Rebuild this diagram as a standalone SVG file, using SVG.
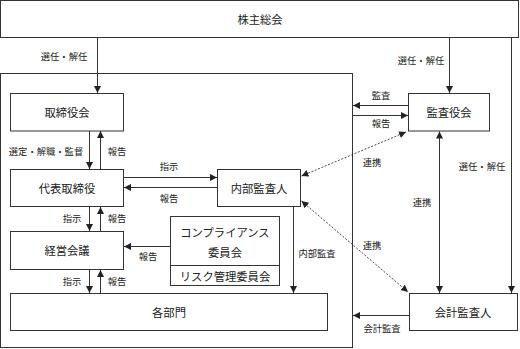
<svg xmlns="http://www.w3.org/2000/svg" width="520" height="349" viewBox="0 0 520 349">
<style>
text{font-family:"Noto Sans CJK JP","Noto Sans CJK SC",sans-serif;fill:#222;text-anchor:middle;dominant-baseline:central}
.t{font-size:11.3px}
.l{font-size:9.3px}
.box{fill:#fff;stroke:#333;stroke-width:1}
.c{fill:none;stroke:#333;stroke-width:1}
.d{fill:none;stroke:#333;stroke-width:0.9;stroke-dasharray:2,1.6}
</style>
<defs>
<marker id="a" markerUnits="userSpaceOnUse" markerWidth="8" markerHeight="8" refX="7" refY="3.5" orient="auto-start-reverse" viewBox="0 0 8 8">
<path d="M0,0 L7,3.5 L0,7 z" fill="#222"/>
</marker>
</defs>
<rect width="520" height="349" fill="#fff"/>
<g id="container"><rect class="box" x="0.5" y="73.5" width="352" height="274"/></g>
<g id="shareholders"><rect class="box" x="0.5" y="0.5" width="518" height="37"/><text class="t" x="260" y="19">株主総会</text></g>
<g id="board"><rect class="box" x="10.5" y="93.5" width="113" height="37.5"/><text class="t" x="67" y="112">取締役会</text></g>
<g id="ceo"><rect class="box" x="10.5" y="169.5" width="113" height="37"/><text class="t" x="67" y="188">代表取締役</text></g>
<g id="mgmt"><rect class="box" x="10.5" y="231.5" width="113" height="38"/><text class="t" x="67" y="250">経営会議</text></g>
<g id="depts"><rect class="box" x="10.5" y="293.5" width="317" height="37"/><text class="t" x="169" y="312">各部門</text></g>
<g id="internal-audit"><rect class="box" x="217.5" y="169.5" width="83" height="37"/><text class="t" x="259" y="188">内部監査人</text></g>
<g id="compliance"><rect class="box" x="170.5" y="216.5" width="109" height="69"/><line class="c" x1="170.5" y1="265.5" x2="279.5" y2="265.5"/><text class="t" x="225" y="232">コンプライアンス</text><text class="t" x="225" y="252">委員会</text><text class="t" x="225" y="276">リスク管理委員会</text></g>
<g id="auditors"><rect class="box" x="408.5" y="93.5" width="81" height="37.5"/><text class="t" x="449" y="112">監査役会</text></g>
<g id="accounting-auditor"><rect class="box" x="409.5" y="293.5" width="108" height="37"/><text class="t" x="463" y="312">会計監査人</text></g>
<g id="connectors">
<path class="c" d="M97.5,38 V93" marker-end="url(#a)"/>
<path class="c" d="M449.5,38 V93" marker-end="url(#a)"/>
<path class="c" d="M511.5,38 V293" marker-end="url(#a)"/>
<path class="c" d="M89.5,131 V169" marker-end="url(#a)"/>
<path class="c" d="M100.5,169 V131" marker-end="url(#a)"/>
<path class="c" d="M124,177.5 H217" marker-end="url(#a)"/>
<path class="c" d="M217,187.5 H124" marker-end="url(#a)"/>
<path class="c" d="M89.5,207 V231" marker-end="url(#a)"/>
<path class="c" d="M100.5,231 V207" marker-end="url(#a)"/>
<path class="c" d="M170,246.5 H124" marker-end="url(#a)"/>
<path class="c" d="M89.5,270 V293" marker-end="url(#a)"/>
<path class="c" d="M100.5,293 V270" marker-end="url(#a)"/>
<path class="c" d="M293.5,207 V293" marker-end="url(#a)"/>
<path class="c" d="M408,105.5 H353" marker-end="url(#a)"/>
<path class="c" d="M353,115.5 H408" marker-end="url(#a)"/>
<path class="c" d="M439.5,131.5 V293" marker-start="url(#a)" marker-end="url(#a)"/>
<path class="c" d="M409,315.5 H353" marker-end="url(#a)"/>
<path class="d" d="M301.5,176 L406,132" marker-start="url(#a)" marker-end="url(#a)"/>
<path class="d" d="M301.5,201 L408,292" marker-start="url(#a)" marker-end="url(#a)"/>
</g>
<g id="labels">
<text class="l" x="64" y="56">選任・解任</text>
<text class="l" x="421" y="60">選任・解任</text>
<text class="l" x="482" y="166">選任・解任</text>
<text class="l" x="46" y="151">選定・解職・監督</text>
<text class="l" x="117" y="151">報告</text>
<text class="l" x="169" y="166">指示</text>
<text class="l" x="169" y="198">報告</text>
<text class="l" x="72" y="218">指示</text>
<text class="l" x="117" y="218">報告</text>
<text class="l" x="148" y="256">報告</text>
<text class="l" x="72" y="281">指示</text>
<text class="l" x="117" y="281">報告</text>
<text class="l" x="317" y="253">内部監査</text>
<text class="l" x="381" y="95">監査</text>
<text class="l" x="381" y="123">報告</text>
<text class="l" x="372" y="162">連携</text>
<text class="l" x="422" y="202">連携</text>
<text class="l" x="372" y="245">連携</text>
<text class="l" x="382" y="328">会計監査</text>
</g>
</svg>
